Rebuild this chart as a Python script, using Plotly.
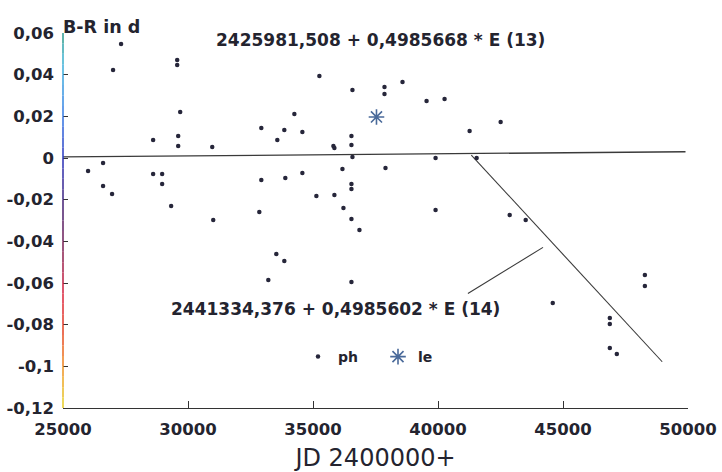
import plotly.graph_objects as go

# ---- data ----
jd = [27323, 27003, 29567, 29567, 29687, 28605, 29607, 29607, 30969, 26002,
      26602, 28605, 28966, 26602, 26963, 28966, 29326, 31009, 32852, 32932,
      33893, 34574, 36177, 37899, 36537, 36537, 35135, 35856, 36217, 36537,
      36858, 39903, 33533, 33853, 33212, 36537, 35255, 36577, 37859, 37859,
      38580, 39542, 40263, 34254, 32932, 33853, 34574, 33573, 36537, 35816,
      35856, 36537, 36577, 39903, 41264, 42506, 41545, 42867, 43508, 44590,
      48275, 48275, 46873, 46873, 46873, 47153]
b_r = [0.0547, 0.0422, 0.0470, 0.0446, 0.0221, 0.0086, 0.0106, 0.0058, 0.0053, -0.0062,
       -0.0024, -0.0077, -0.0077, -0.0134, -0.0173, -0.0125, -0.0230, -0.0298, -0.0259, -0.0106,
       -0.0096, -0.0072, -0.0053, -0.0048, -0.0125, -0.0149, -0.0182, -0.0178, -0.0240, -0.0293,
       -0.0346, -0.0250, -0.0461, -0.0494, -0.0586, -0.0595, 0.0394, 0.0326, 0.0341, 0.0307,
       0.0365, 0.0274, 0.0283, 0.0211, 0.0144, 0.0134, 0.0125, 0.0086, 0.0106, 0.0058,
       0.0048, 0.0062, 0.0005, 0.0000, 0.0130, 0.0173, 0.0000, -0.0274, -0.0298, -0.0696,
       -0.0562, -0.0614, -0.0768, -0.0797, -0.0912, -0.0941]

le_jd = [37539]
le_b_r = [0.0197]

zero_line_x = [25000, 49900]
zero_line_y = [0.0005, 0.0030]
fit14_x = [41332, 48968]
fit14_y = [0.0014, -0.0978]
pointer_x = [41196, 44201]
pointer_y = [-0.0650, -0.0429]

x_ticks = [25000, 30000, 35000, 40000, 45000, 50000]
x_tick_labels = ["25000", "30000", "35000", "40000", "45000", "50000"]
y_ticks = [0.06, 0.04, 0.02, 0.0, -0.02, -0.04, -0.06, -0.08, -0.10, -0.12]
y_tick_labels = ["0,06", "0,04", "0,02", "0", "-0,02", "-0,04", "-0,06", "-0,08", "-0,1", "-0,12"]

eq13_text = "2425981,508 + 0,4985668 * E (13)"
eq13_pos = (37700, 0.0566)
eq14_text = "2441334,376 + 0,4985602 * E (14)"
eq14_pos = (35916, -0.0725)
y_title = "B-R in d"
x_title = "JD 2400000+"

FONT = "DejaVu Sans"
INK = "#24242f"

fig = go.Figure()

fig.add_trace(go.Scatter(x=zero_line_x, y=zero_line_y, mode="lines",
                         line=dict(color="#3a3a3a", width=1.3), showlegend=False, hoverinfo="skip"))
fig.add_trace(go.Scatter(x=fit14_x, y=fit14_y, mode="lines",
                         line=dict(color="#3a3a3a", width=1.1), showlegend=False, hoverinfo="skip"))
fig.add_trace(go.Scatter(x=pointer_x, y=pointer_y, mode="lines",
                         line=dict(color="#3a3a3a", width=1.1), showlegend=False, hoverinfo="skip"))

fig.add_trace(go.Scatter(x=jd, y=b_r, mode="markers", name="ph",
                         marker=dict(color="#26263a", size=4.5)))
fig.add_trace(go.Scatter(x=le_jd, y=le_b_r, mode="markers", name="le",
                         marker=dict(symbol="asterisk-open", color="#4a6a9a", size=13,
                                     line=dict(color="#4a6a9a", width=1.6))))

# gradient-coloured y axis line (scan colours)
stops = [(0.06, (40, 150, 130)), (0.045, (60, 180, 220)), (0.02, (50, 120, 230)),
         (0.0, (40, 50, 190)), (-0.025, (70, 30, 110)), (-0.045, (130, 30, 80)),
         (-0.065, (220, 30, 60)), (-0.085, (230, 70, 30)), (-0.10, (240, 140, 30)),
         (-0.12, (230, 215, 40))]
n = 36
for i in range(n):
    ya = 0.06 - i * 0.18 / n
    yb = ya - 0.18 / n
    ym = (ya + yb) / 2
    for j in range(len(stops) - 1):
        if stops[j][0] >= ym >= stops[j + 1][0]:
            t = (stops[j][0] - ym) / (stops[j][0] - stops[j + 1][0])
            c = tuple(int(stops[j][1][k] + t * (stops[j + 1][1][k] - stops[j][1][k])) for k in range(3))
            break
    fig.add_shape(type="line", xref="paper", yref="y", x0=0, x1=0, y0=ya, y1=yb,
                  line=dict(color="rgb(%d,%d,%d)" % c, width=1.5), layer="above")

fig.add_annotation(x=eq13_pos[0], y=eq13_pos[1], xref="x", yref="y", text=eq13_text,
                   showarrow=False, font=dict(family=FONT, size=17, color=INK, weight="bold"))
fig.add_annotation(x=eq14_pos[0], y=eq14_pos[1], xref="x", yref="y", text=eq14_text,
                   showarrow=False, font=dict(family=FONT, size=17, color=INK, weight="bold"))
fig.add_annotation(x=-0.003, y=1.048, xref="paper", yref="paper", text="<b>" + y_title + "</b>",
                   xanchor="left", showarrow=False, font=dict(family=FONT, size=17.5, color=INK))

fig.update_layout(
    width=722, height=472,
    margin=dict(l=63, r=34, t=33, b=64),
    paper_bgcolor="white", plot_bgcolor="white",
    separators=",.",
    font=dict(family=FONT, color=INK),
    showlegend=True,
    legend=dict(orientation="h", x=0.376, y=0.136, xanchor="left", yanchor="middle",
                bgcolor="rgba(0,0,0,0)", font=dict(family=FONT, size=14, color=INK, weight="bold"),
                entrywidth=35, entrywidthmode="pixels"),
    xaxis=dict(range=[25000, 50000], tickvals=x_ticks, ticktext=x_tick_labels, automargin=False,
               ticks="inside", ticklen=7, tickcolor="#333", showline=True, linecolor="#333",
               linewidth=1.2, showgrid=False, zeroline=False,
               tickfont=dict(family=FONT, size=16.5, color=INK, weight="bold"), ticklabelstandoff=6,
               title=dict(text=x_title, font=dict(family=FONT, size=24, color=INK), standoff=14)),
    yaxis=dict(range=[-0.12, 0.06], tickvals=y_ticks, ticktext=y_tick_labels, automargin=False,
               ticks="inside", ticklen=5, tickcolor="#333", showline=False,
               showgrid=False, zeroline=False,
               tickfont=dict(family=FONT, size=16.5, color=INK, weight="bold"), ticklabelstandoff=8),
)

fig.write_html("out.html", config={"displayModeBar": False},
               post_script="document.body.style.margin='0';")
